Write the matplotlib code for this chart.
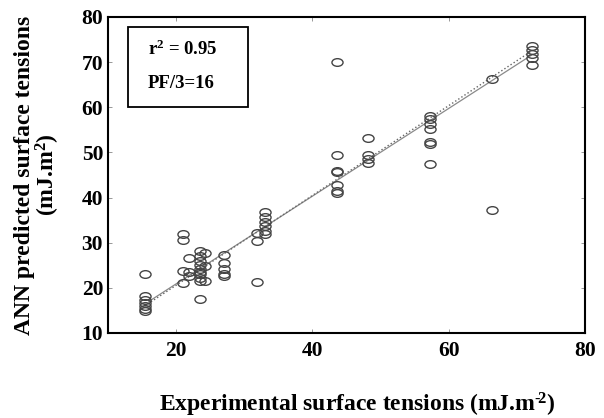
import numpy as np
import matplotlib
matplotlib.use("Agg")
import matplotlib.pyplot as plt
from matplotlib.path import Path
from matplotlib.transforms import Affine2D

plt.rcParams['font.family'] = ['Liberation Serif', 'DejaVu Serif']
plt.rcParams['font.weight'] = 'bold'
plt.rcParams['mathtext.fontset'] = 'custom'
plt.rcParams['mathtext.rm'] = 'Liberation Serif:bold'
plt.rcParams['mathtext.it'] = 'Liberation Serif:bold'
plt.rcParams['mathtext.bf'] = 'Liberation Serif:bold'

# Experimental vs predicted values
exp_x = [15.4, 15.4, 15.4, 15.4, 15.4, 15.4, 15.4,
         21.0, 21.0, 21.0, 21.0, 21.9, 21.9, 21.9,
         23.5, 23.5, 23.5, 23.5, 23.5, 23.5, 23.5, 23.5, 23.5, 23.5,
         24.3, 24.3, 24.3,
         27.0, 27.0, 27.0, 27.0, 27.0,
         31.8, 31.8, 31.8,
         33.1, 33.1, 33.1, 33.1, 33.1, 33.1,
         43.6, 43.6, 43.6, 43.6, 43.6, 43.6, 43.6,
         48.1, 48.1, 48.1, 48.1,
         57.2, 57.2, 57.2, 57.2, 57.2, 57.2, 57.2,
         66.4, 66.4,
         72.2, 72.2, 72.2, 72.2, 72.2]
pred_y = [23.0, 18.1, 17.3, 16.6, 16.0, 15.4, 14.9,
          31.9, 30.6, 23.7, 21.1, 26.7, 23.5, 22.6,
          28.1, 27.0, 26.0, 25.0, 24.2, 23.6, 23.0, 22.2, 21.6, 17.6,
          27.8, 24.8, 21.5,
          27.2, 25.6, 24.1, 23.0, 22.6,
          32.2, 30.4, 21.3,
          36.9, 35.6, 34.6, 33.7, 32.6, 31.9,
          70.1, 49.5, 45.8, 45.6, 42.8, 41.5, 41.0,
          53.1, 49.5, 48.5, 47.6,
          58.0, 57.3, 56.3, 55.3, 52.4, 51.9, 47.4,
          66.3, 37.3,
          73.5, 72.6, 71.9, 70.9, 69.3]

fit_x = [16.0, 72.1]
fit_y = [17.0, 71.5]
ideal_x = [15.4, 72.2]
ideal_y = [16.0, 72.5]

xticks = [20, 40, 60, 80]
yticks = [10, 20, 30, 40, 50, 60, 70, 80]

fig = plt.figure(figsize=(6.04, 4.18), dpi=100)
ax = fig.add_axes([108/604, 1 - 333/418, 477/604, 316/418])

circ = Path.unit_circle()
ell = Affine2D().scale(1.45, 1.0).transform_path(circ)

ax.plot(fit_x, fit_y, color='#8a8a8a', lw=0.9, zorder=2)
ax.plot(ideal_x, ideal_y, color='#666666', lw=1.0, ls=':', zorder=2)
ax.plot(exp_x, pred_y, ls='none', marker=ell, markersize=8,
        markerfacecolor='none', markeredgecolor='#444444', markeredgewidth=1.0, zorder=3)

ax.set_xlim(10, 80)
ax.set_ylim(10, 80)
ax.set_xticks(xticks)
ax.set_yticks(yticks)
ax.tick_params(direction='in', length=3, width=0.6, color='#888888',
               top=True, right=True, labelsize=15.5)
ax.tick_params(axis='x', pad=6)
ax.tick_params(axis='y', pad=3.5)
for lab in ax.get_xticklabels() + ax.get_yticklabels():
    lab.set_fontweight('bold')
for s in ax.spines.values():
    s.set_linewidth(1.5)
    s.set_color('black')

fig.text(0.5 * (155 + 559) / 604, 1 - 405 / 418,
         'Experimental surface tensions (mJ.m$^{\u2010\\!2}$)',
         ha='center', va='center', fontsize=17, fontweight='bold')
yc = 0.5 * (1 - 17/418 + 1 - 333/418)
fig.text(25 / 604, yc, 'ANN predicted surface tensions', rotation=90,
         ha='center', va='center', fontsize=17, fontweight='bold')
fig.text(48 / 604, yc, r'(mJ.m$^{2}$)', rotation=90,
         ha='center', va='center', fontsize=17, fontweight='bold')

# legend-like box
bx0, by0 = 128 / 604, 1 - 107 / 418
bw, bh = 120 / 604, 80 / 418
rect = plt.Rectangle((bx0, by0), bw, bh, transform=fig.transFigure,
                     fill=False, edgecolor='black', lw=1.3)
fig.add_artist(rect)
fig.text(148 / 604, 1 - 49 / 418, r'r$^{2}$ = 0.95', ha='left', va='center',
         fontsize=13.5, fontweight='bold')
fig.text(148 / 604, 1 - 83 / 418, 'PF/3=16', ha='left', va='center',
         fontsize=13.5, fontweight='bold')

fig.savefig('out.png', dpi=100)
